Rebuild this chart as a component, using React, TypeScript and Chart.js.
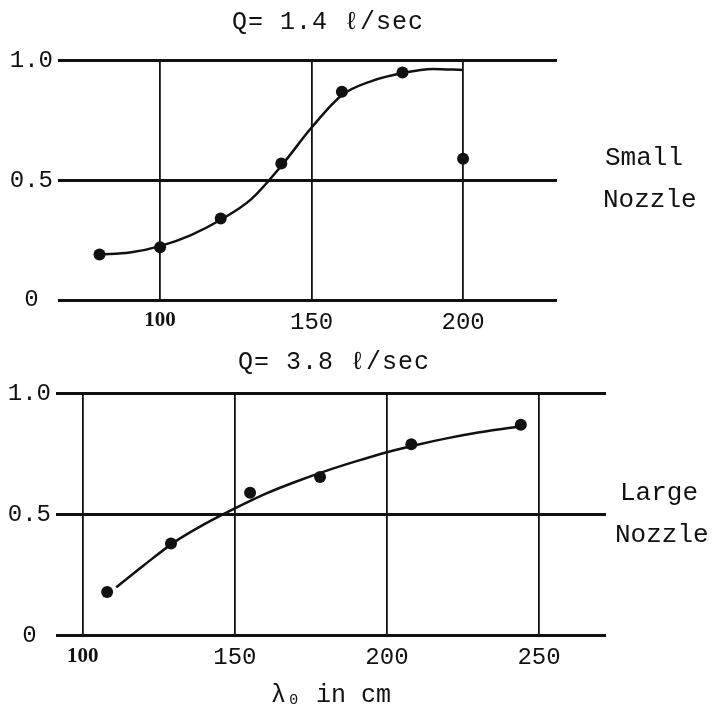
import React, { useEffect, useRef } from "react";
import { Chart, registerables } from "chart.js";

Chart.register(...registerables);

// ---- data ----
const topTitle = "Q= 1.4 ℓ/sec";
const bottomTitle = "Q= 3.8 ℓ/sec";
const xAxisTitle = "λ₀ in cm";
const topSideLabel = ["Small", "Nozzle"];
const bottomSideLabel = ["Large", "Nozzle"];

const yTicks = [0, 0.5, 1.0];
const yTickLabels = ["0", "0.5", "1.0"];

const topXTicks = [100, 150, 200];
const topPointsX = [80, 100, 120, 140, 160, 180, 200];
const topPointsY = [0.19, 0.22, 0.34, 0.57, 0.87, 0.95, 0.59];
const topCurveX = [80, 90, 100, 110, 120, 130, 140, 150, 160, 170, 180, 190, 200];
const topCurveY = [0.19, 0.198, 0.225, 0.27, 0.335, 0.42, 0.56, 0.72, 0.855, 0.915, 0.948, 0.965, 0.96];

const bottomXTicks = [100, 150, 200, 250];
const bottomPointsX = [108, 129, 155, 178, 208, 244];
const bottomPointsY = [0.18, 0.38, 0.59, 0.655, 0.79, 0.87];
const bottomCurveX = [111, 120, 130, 140, 150, 160, 170, 180, 190, 200, 210, 220, 230, 240, 245];
const bottomCurveY = [0.2, 0.29, 0.385, 0.46, 0.525, 0.585, 0.635, 0.68, 0.72, 0.757, 0.788, 0.815, 0.838, 0.857, 0.865];

// ---- styles ----
const INK = "#111";
const MONO = "'Liberation Mono', 'DejaVu Sans Mono', monospace";
const monoFont = { family: MONO, size: 24 };
const boldSerif = { family: "'Liberation Serif', serif", size: 21, weight: "bold" as const };

const freeText = {
  id: "freeText",
  afterDraw(chart: any, _args: any, opts: any) {
    const ctx = chart.ctx;
    (opts.items || []).forEach((it: any) => {
      ctx.save();
      ctx.font = it.font;
      ctx.fillStyle = INK;
      ctx.textAlign = it.align || "left";
      ctx.textBaseline = "middle";
      if ("letterSpacing" in ctx) (ctx as any).letterSpacing = it.spacing || "0px";
      ctx.fillText(it.text, it.x, it.y);
      ctx.restore();
    });
  },
};

function makeConfig(opts: {
  xs: number[]; ys: number[]; cx: number[]; cy: number[];
  xTicks: number[]; xMin: number; xMax: number;
  padding: any; yWidth: number; xHeight: number;
  texts: any[]; axisTitle?: string;
}): any {
  return {
    type: "scatter",
    data: {
      datasets: [
        {
          label: "curve",
          data: opts.cx.map((x, i) => ({ x, y: opts.cy[i] })),
          showLine: true,
          borderColor: INK,
          borderWidth: 2.5,
          pointRadius: 0,
          cubicInterpolationMode: "monotone",
          fill: false,
        },
        {
          label: "measured",
          data: opts.xs.map((x, i) => ({ x, y: opts.ys[i] })),
          showLine: false,
          pointRadius: 6,
          pointBackgroundColor: INK,
          pointBorderColor: INK,
          pointBorderWidth: 0,
        },
      ],
    },
    options: {
      responsive: false,
      animation: false,
      devicePixelRatio: 1,
      layout: { padding: opts.padding },
      plugins: {
        legend: { display: false },
        tooltip: { enabled: false },
        title: { display: false },
        freeText: { items: opts.texts },
      },
      scales: {
        x: {
          type: "linear",
          min: opts.xMin,
          max: opts.xMax,
          afterBuildTicks: (s: any) => {
            s.ticks = opts.xTicks.map((v) => ({ value: v }));
          },
          afterFit: (s: any) => {
            s.height = opts.xHeight;
          },
          grid: { color: INK, lineWidth: 1.8, drawTicks: false },
          border: { display: false },
          ticks: {
            color: INK,
            padding: 8,
            maxRotation: 0,
            autoSkip: false,
            callback: (v: any) => String(v),
            font: (c: any) => (c.tick && c.tick.value === 100 ? boldSerif : monoFont),
          },
          title: opts.axisTitle
            ? {
                display: true,
                text: opts.axisTitle,
                color: INK,
                font: { family: MONO, size: 25, lineHeight: 1.2 },
                padding: { top: 0, bottom: 6 },
              }
            : { display: false },
        },
        y: {
          type: "linear",
          min: 0,
          max: 1,
          afterBuildTicks: (s: any) => {
            s.ticks = yTicks.map((v) => ({ value: v }));
          },
          afterFit: (s: any) => {
            s.width = opts.yWidth;
          },
          grid: { color: INK, lineWidth: 3, drawTicks: false },
          border: { display: false },
          ticks: {
            color: INK,
            padding: 5,
            crossAlign: "center",
            font: monoFont,
            callback: (v: any) => yTickLabels[yTicks.indexOf(v)] ?? "",
          },
        },
      },
    },
    plugins: [freeText],
  };
}

export default function App() {
  const topRef = useRef<HTMLCanvasElement>(null);
  const botRef = useRef<HTMLCanvasElement>(null);

  useEffect(() => {
    const titleFont = `25px ${MONO}`;
    const sideFont = `26px ${MONO}`;
    const top = new Chart(
      topRef.current!,
      makeConfig({
        xs: topPointsX, ys: topPointsY, cx: topCurveX, cy: topCurveY,
        xTicks: topXTicks, xMin: 66.3, xMax: 231,
        padding: { left: 0, top: 60.5, right: 156, bottom: 0 },
        yWidth: 58, xHeight: 40,
        texts: [
          { text: topTitle, x: 328, y: 22, font: titleFont, align: "center", spacing: "1px" },
          { text: topSideLabel[0], x: 605, y: 158, font: sideFont },
          { text: topSideLabel[1], x: 603, y: 200, font: sideFont },
        ],
      })
    );
    const bottom = new Chart(
      botRef.current!,
      makeConfig({
        xs: bottomPointsX, ys: bottomPointsY, cx: bottomCurveX, cy: bottomCurveY,
        xTicks: bottomXTicks, xMin: 91.2, xMax: 272,
        padding: { left: 0, top: 53.3, right: 107, bottom: 0 },
        yWidth: 56, xHeight: 80.3,
        axisTitle: xAxisTitle,
        texts: [
          { text: bottomTitle, x: 334, y: 22.5, font: titleFont, align: "center", spacing: "1px" },
          { text: bottomSideLabel[0], x: 620, y: 153, font: sideFont },
          { text: bottomSideLabel[1], x: 615, y: 195, font: sideFont },
        ],
      })
    );
    return () => {
      top.destroy();
      bottom.destroy();
    };
  }, []);

  return (
    <div style={{ position: "absolute", left: 0, top: 0, width: 713, height: 716, background: "#fff" }}>
      <canvas ref={topRef} width={713} height={340} style={{ position: "absolute", left: 0, top: 0 }} />
      <canvas ref={botRef} width={713} height={376} style={{ position: "absolute", left: 0, top: 340 }} />
    </div>
  );
}
